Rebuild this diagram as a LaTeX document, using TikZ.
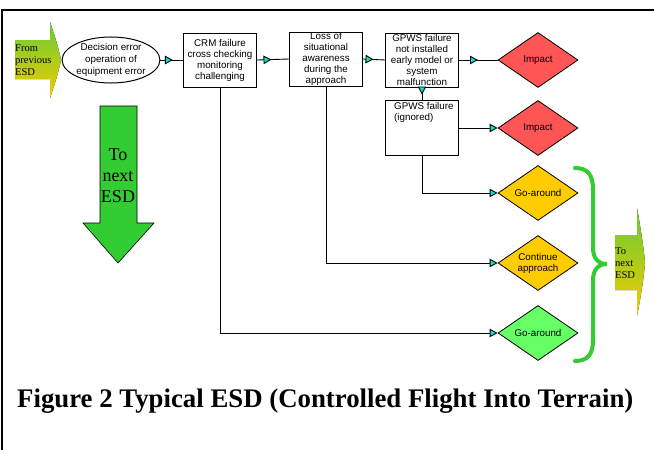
\documentclass[tikz,border=0pt]{standalone}
\usepackage{fontspec}
\setmainfont{Liberation Serif}
\setsansfont{Liberation Sans}
\usetikzlibrary{shapes.geometric,arrows.meta,decorations.markings}

\definecolor{impactred}{RGB}{255,85,85}
\definecolor{goamber}{RGB}{255,204,0}
\definecolor{golight}{RGB}{102,255,102}
\definecolor{esdgreen}{RGB}{51,204,51}
\definecolor{tipcyan}{RGB}{0,230,204}
\definecolor{fadegreen}{RGB}{102,204,51}
\definecolor{fadeyellow}{RGB}{245,204,0}

\tikzset{
  tipc/.tip={Triangle[length=8pt,width=8.5pt,fill=tipcyan]},
  boxfont/.style={font=\sffamily\fontsize{9.8}{11}\selectfont},
  failbox/.style={draw, line width=1pt, minimum width=73pt, minimum height=54pt, inner sep=0pt, align=center, boxfont},
  endstate/.style={diamond, draw, line width=0.8pt, minimum width=80pt, minimum height=55pt, inner sep=0pt, aspect=1.45, align=center, boxfont},
  link/.style={line width=0.9pt},
  tipat/.style={postaction={decorate, decoration={markings, mark=at position #1 with {\arrow{tipc}}}}},
  fadearrow/.style={top color=fadegreen, bottom color=fadeyellow, draw=none},
  esdtext/.style={font=\fontsize{10.5}{12.3}\selectfont, align=left, inner sep=0pt},
}

\begin{document}
\begin{tikzpicture}[x=1pt, y=-1pt]
\useasboundingbox (0,0) rectangle (654,450);

% Draw the page frame
\draw[line width=1.2pt] (2,450) -- (2,10) -- (654,10);

% Draw the incoming ESD arrow
\fill[fadearrow] (15,40) -- (50,40) -- (50,22) .. controls (55,36) and (59,50) .. (61,60)
  .. controls (59,70) and (55,84) .. (50,98) -- (50,79) -- (15,79) -- cycle;
\node[esdtext, anchor=west] (prev) at (15,60) {From\\previous\\ESD};

% Draw the chain of failures
\node[ellipse, draw, line width=1pt, minimum width=97pt, minimum height=44pt, inner sep=0pt, align=center, boxfont, font=\sffamily\fontsize{9.8}{11.7}\selectfont] (decision) at (111,60) {Decision error\\operation of\\equipment error};
\node[failbox] (crm) at (220,60) {CRM failure\\cross checking\\monitoring\\challenging};
\node[failbox] (loss) at (326,59) {Loss of\\situational\\awareness\\during the\\approach};
\node[failbox] (gpws) at (422,60) {GPWS failure\\not installed\\early model or\\system\\malfunction};
\node[failbox, minimum height=55pt] (ignored) at (422,128) {};
\node[anchor=north west, align=left, inner sep=0pt, boxfont] (ignoredtext) at (394,102) {GPWS failure\\(ignored)};

% Draw the end states
\node[endstate, fill=impactred] (impactA) at (538,60) {Impact};
\node[endstate, fill=impactred] (impactB) at (538,128) {Impact};
\node[endstate, fill=goamber] (goA) at (538,193) {Go-around};
\node[endstate, fill=goamber] (cont) at (538,263) {Continue\\approach};
\node[endstate, fill=golight] (goB) at (538,333) {Go-around};

% Draw the connectors
\draw[link, tipat=12.5pt] (decision.east) -- (crm.west);
\draw[link, tipat=14.5pt] (crm.east) -- (loss.west);
\draw[link, tipat=10.5pt] (loss.east) -- (gpws.west);
\draw[link, tipat=19pt] (gpws.east) -- (impactA.west);
\draw[link, tipat=7pt] (gpws.south) -- (ignored.north);
\draw[link, -{tipc}] (ignored.east) -- (impactB.west);
\draw[link, -{tipc}] (ignored.south) |- (goA.west);
\draw[link, -{tipc}] (loss.south) |- (cont.west);
\draw[link, -{tipc}] (crm.south) |- (goB.west);

% Draw the brace round the outcomes
\draw[esdgreen, line width=4pt, line cap=round] (575,168) .. controls (588,168) and (593,175) .. (593,190)
  -- (593,248) .. controls (593,258) and (598,264) .. (607,264)
  .. controls (598,264) and (593,270) .. (593,280)
  -- (593,340) .. controls (593,354) and (588,361) .. (575,361);

% Draw the outgoing ESD arrow
\fill[fadearrow] (615,235) -- (637,235) -- (637,208) .. controls (641,230) and (644,250) .. (645,263)
  .. controls (644,276) and (641,296) .. (637,316) -- (637,290) -- (615,290) -- cycle;
\node[esdtext, anchor=west] (next) at (615,263) {To\\next\\ESD};

% Draw the big down arrow
\filldraw[fill=esdgreen, draw=black, line width=0.6pt] (100,106) -- (137,106) -- (137,223) -- (154,223)
  -- (118,263) -- (83,223) -- (100,223) -- cycle;
\node[font=\fontsize{18}{21}\selectfont, align=center, inner sep=0pt] (down) at (118,176) {To\\next\\ESD};

% Caption
\node[anchor=base west, inner sep=0pt, font=\bfseries\fontsize{26.8}{30}\selectfont] (caption) at (17,407) {Figure 2 Typical ESD (Controlled Flight Into Terrain)};

\end{tikzpicture}
\end{document}
